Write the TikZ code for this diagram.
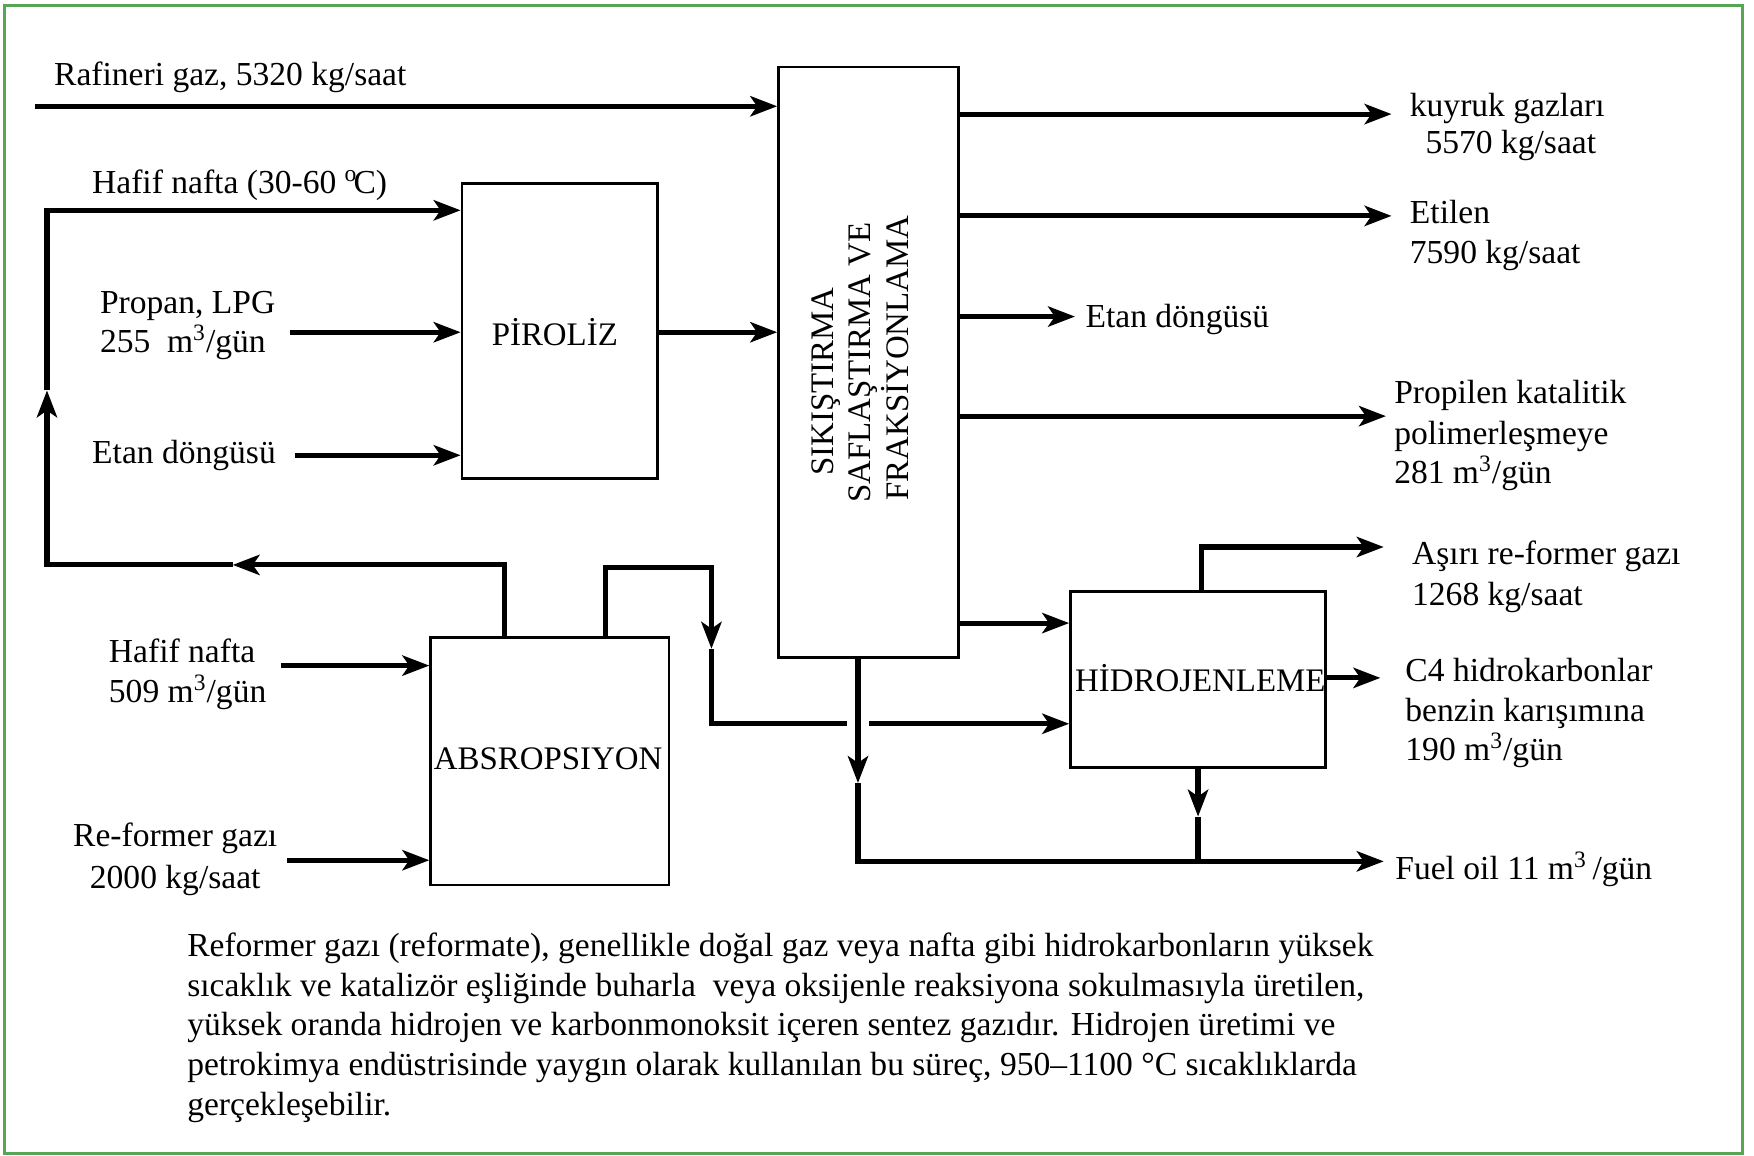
\documentclass[tikz,border=0pt]{standalone}
\usepackage{fontspec}
\setmainfont{Liberation Serif}
\usetikzlibrary{arrows.meta}
\definecolor{framegreen}{RGB}{86,166,86}

\begin{document}
\begin{tikzpicture}[x=0.5pt,y=-0.5pt,
  flow/.style={line width=2.3pt, line cap=butt, line join=miter},
  tip/.style={-{Stealth[length=12pt,width=9pt,inset=3pt]}},
  unitbox/.style={draw, line width=1.2pt, inner sep=0pt},
  boxtxt/.style={inner sep=0pt, font=\fontsize{14.7}{17}\selectfont},
  lbl/.style={inner sep=0pt, anchor=base west, font=\fontsize{15}{17}\selectfont},
]
\useasboundingbox (0,0) rectangle (1568,1033);
\fill[white] (0,0) rectangle (1568,1033);
\draw[framegreen, line width=1.2pt] (4,5) rectangle (1558,1031);

% process units
\node[unitbox, minimum width=80.5pt, minimum height=264pt] (sep) at (776.5,324) {};
\node[unitbox, minimum width=87.5pt, minimum height=132pt] (pir) at (500.5,296) {};
\node[unitbox, minimum width=106.5pt, minimum height=110.5pt] (abs) at (491.5,680.5) {};
\node[unitbox, minimum width=114pt, minimum height=78.5pt] (hid) at (1071,607.5) {};

\node[boxtxt, rotate=90, anchor=base] (sepA) at (745,341) {SIKIŞTIRMA};
\node[boxtxt, rotate=90, anchor=base] (sepB) at (778,324) {SAFLAŞTIRMA VE};
\node[boxtxt, rotate=90, anchor=base] (sepC) at (812,320) {FRAKSİYONLAMA};
\node[boxtxt] (pirT) at (496,297) {PİROLİZ};
\node[boxtxt] (absT) at (490,678) {ABSROPSIYON};
\node[boxtxt] (hidT) at (1073,606) {HİDROJENLEME};

% feed labels
\node[lbl] (lRaf) at (48,76) {Rafineri gaz, 5320 kg/saat};
\node[lbl] (lHn1) at (82,173) {Hafif nafta (30-60 \textsuperscript{o}\kern-0.12em C)};
\node[lbl] (lPr1) at (89,280) {Propan, LPG};
\node[lbl] (lPr2) at (89,315) {255\enspace m\textsuperscript{3}/gün};
\node[lbl] (lEt1) at (82,414) {Etan döngüsü};
\node[lbl] (lHn2) at (97,592) {Hafif nafta};
\node[lbl] (lHn3) at (97,628) {509 m\textsuperscript{3}/gün};
\node[lbl] (lRf1) at (65,757) {Re-former gazı};
\node[lbl] (lRf2) at (80,794) {2000 kg/saat};

% product labels
\node[lbl] (lKu1) at (1260,104) {kuyruk gazları};
\node[lbl] (lKu2) at (1274,137) {5570 kg/saat};
\node[lbl] (lEl1) at (1260,200) {Etilen};
\node[lbl] (lEl2) at (1260,236) {7590 kg/saat};
\node[lbl] (lEt2) at (970,293) {Etan döngüsü};
\node[lbl] (lPp1) at (1246,361) {Propilen katalitik};
\node[lbl] (lPp2) at (1246,397) {polimerleşmeye};
\node[lbl] (lPp3) at (1246,432) {281 m\textsuperscript{3}/gün};
\node[lbl] (lAr1) at (1262,505) {Aşırı re-former gazı};
\node[lbl] (lAr2) at (1262,541) {1268 kg/saat};
\node[lbl] (lC41) at (1256,609) {C4 hidrokarbonlar};
\node[lbl] (lC42) at (1256,645) {benzin karışımına};
\node[lbl] (lC43) at (1256,680) {190 m\textsuperscript{3}/gün};
\node[lbl] (lFo) at (1247,786) {Fuel oil 11 m\textsuperscript{3}\,/gün};

% note
\node[lbl] (n1) at (167,855) {Reformer gazı (reformate), genellikle doğal gaz veya nafta gibi hidrokarbonların yüksek};
\node[lbl] (n2) at (167,890.5) {sıcaklık ve katalizör eşliğinde buharla~ veya oksijenle reaksiyona sokulmasıyla üretilen,};
\node[lbl] (n3) at (167,926) {yüksek oranda hidrojen ve karbonmonoksit içeren sentez gazıdır. Hidrojen üretimi ve};
\node[lbl] (n4) at (167,961.5) {petrokimya endüstrisinde yaygın olarak kullanılan bu süreç, 950–1100 °C sıcaklıklarda};
\node[lbl] (n5) at (167,997) {gerçekleşebilir.};

% connector points
\coordinate (rafIn) at (31,95);
\coordinate (propIn) at (259,297);
\coordinate (etanIn) at (264,407);
\coordinate (hnIn) at (251,595);
\coordinate (rfIn) at (257,769);
\coordinate (pirOut) at (600,297);
\coordinate (loopA) at (451,505);
\coordinate (loopArr) at (208,505);
\coordinate (loopB) at (42,505);
\coordinate (loopUp) at (42,349);
\coordinate (loopC) at (42,188);
\coordinate (r1) at (541,507);
\coordinate (r2) at (636,507);
\coordinate (r2arr) at (636,580);
\coordinate (r3) at (636,647);
\coordinate (gapL) at (757,647);
\coordinate (gapR) at (777,647);
\coordinate (kgEnd) at (1244,102);
\coordinate (elEnd) at (1244,193);
\coordinate (etEnd) at (961,283);
\coordinate (ppEnd) at (1239,372);
\coordinate (shY) at (900,557);
\coordinate (fo1) at (767,700);
\coordinate (fo2) at (767,770);
\coordinate (foEnd) at (1237,770);
\coordinate (h1) at (1074,489);
\coordinate (h1End) at (1237,489);
\coordinate (c4End) at (1234,606);
\coordinate (h3) at (1071,730);

% feeds
\draw[flow,tip] (rafIn) -- (rafIn -| sep.west);
\draw[flow,tip] (propIn) -- (propIn -| pir.west);
\draw[flow,tip] (etanIn) -- (etanIn -| pir.west);
\draw[flow,tip] (hnIn) -- (hnIn -| abs.west);
\draw[flow,tip] (rfIn) -- (rfIn -| abs.west);
\draw[flow,tip] (pir.east |- pirOut) -- (sep.west |- pirOut);

% naphtha recycle from the absorber back to pyrolysis
\draw[flow,tip] (loopA |- abs.north) -- (loopA) -- (loopArr);
\draw[flow,tip] (loopArr) -- (loopB) -- (loopUp);
\draw[flow,tip] (loopUp) -- (loopC) -- (loopC -| pir.west);

% absorber overhead to hydrogenation
\draw[flow,tip] (r1 |- abs.north) -- (r1) -- (r2) -- (r2arr);
\draw[flow] (r2arr) -- (r3) -- (gapL);
\draw[flow,tip] (gapR) -- (gapR -| hid.west);

% fractionation products
\draw[flow,tip] (sep.east |- kgEnd) -- (kgEnd);
\draw[flow,tip] (sep.east |- elEnd) -- (elEnd);
\draw[flow,tip] (sep.east |- etEnd) -- (etEnd);
\draw[flow,tip] (sep.east |- ppEnd) -- (ppEnd);
\draw[flow,tip] (sep.east |- shY) -- (hid.west |- shY);
\draw[flow,tip] (fo1 |- sep.south) -- (fo1);
\draw[flow,tip] (fo1) -- (fo2) -- (foEnd);

% hydrogenation products
\draw[flow,tip] (h1 |- hid.north) -- (h1) -- (h1End);
\draw[flow,tip] (hid.east |- c4End) -- (c4End);
\draw[flow,tip] (h3 |- hid.south) -- (h3);
\draw[flow] (h3) -- (h3 |- fo2);
\end{tikzpicture}
\end{document}
